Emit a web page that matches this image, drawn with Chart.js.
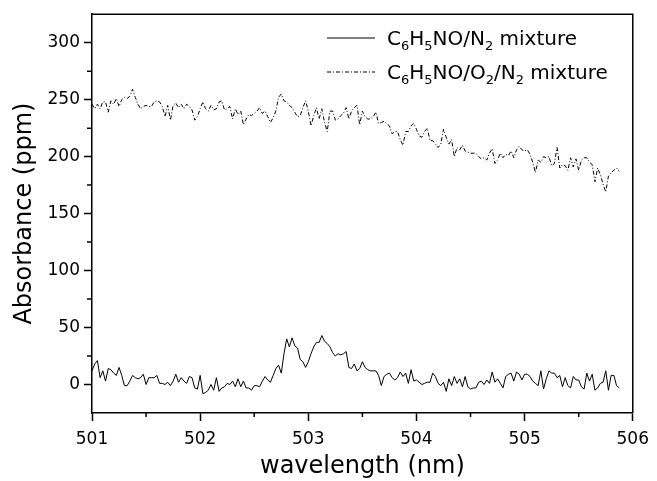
<!DOCTYPE html>
<html lang="en">
<head>
    <meta charset="UTF-8">
    <title>Absorbance spectra</title>
    <script src="https://cdn.jsdelivr.net/npm/chart.js@4.4.1/dist/chart.umd.min.js"></script>
    <style>
        body { margin: 0; background: #fff; }
        canvas { display: block; }
    </style>
</head>
<body>
    <canvas id="spectrum" width="657" height="481"></canvas>

    <script>
        // sampling grid of the spectrometer (nm)
        const WL_START = 501;
        const WL_STEP = 0.025;
        const WL_COUNT = 196;

        // C6H5NO/N2 mixture (ppm)
        const noMixture = [
            12, 18, 21, 6, 12, 3, 14, 13, 10, 8,
            15, 8, -1, -1, 3, 8, 6, 5, 6, 9,
            0, 6, 6, 6, 8, 1, 1, 0, 2, -1,
            3, 9, 2, 6, 3, 1, 7, 6, -3, -4,
            8, -8, -7, -5, 0, -5, 6, -6, -3, -2,
            1, 0, 3, -2, 5, -2, 3, -3, -3, -5,
            -1, -1, -2, 3, 7, 4, 2, 8, 14, 17,
            10, 27, 40, 33, 41, 34, 32, 22, 20, 15,
            20, 27, 33, 37, 37, 43, 38, 36, 33, 28,
            25, 27, 26, 27, 29, 15, 14, 18, 12, 14,
            20, 15, 13, 12, 12, 12, 8, -1, 7, 9,
            10, 6, 4, 6, 11, 7, 10, 1, 13, 3,
            4, 2, 0, 1, 2, 2, 10, 7, 1, -1,
            2, -6, 5, -1, 7, 1, 5, -2, 7, -2,
            -4, -3, -3, 2, 3, 0, 4, 1, 11, 2,
            5, 1, -3, 7, 9, 10, 3, 11, 9, 4,
            9, 9, 7, 3, 1, -1, 12, -4, 5, 12,
            10, 10, 6, 8, -2, 6, -1, -3, 7, 4,
            4, -2, -4, 10, 3, 9, -5, -3, 1, 2,
            12, -5, 8, 8, -1, -3
        ];

        // C6H5NO/O2/N2 mixture (ppm)
        const o2Mixture = [
            246, 242, 246, 242, 248, 248, 239, 249, 246, 251,
            244, 250, 252, 251, 253, 259, 252, 246, 242, 244,
            245, 244, 244, 248, 249, 248, 244, 235, 245, 232,
            245, 247, 243, 246, 242, 246, 244, 241, 232, 235,
            242, 248, 242, 240, 245, 241, 242, 248, 249, 241,
            242, 244, 233, 242, 237, 240, 228, 233, 237, 236,
            238, 240, 243, 238, 240, 235, 230, 234, 240, 252,
            255, 249, 248, 245, 243, 239, 235, 236, 243, 249,
            240, 227, 236, 243, 233, 242, 230, 222, 240, 240,
            232, 233, 236, 238, 243, 233, 240, 243, 245, 228,
            240, 235, 233, 233, 235, 239, 229, 230, 231, 229,
            227, 220, 222, 222, 215, 210, 222, 222, 227, 229,
            224, 218, 217, 222, 225, 214, 214, 211, 208, 211,
            224, 217, 211, 215, 200, 208, 206, 210, 205, 204,
            203, 203, 203, 200, 198, 199, 197, 203, 207, 194,
            197, 203, 199, 202, 201, 205, 199, 206, 209, 206,
            205, 206, 202, 195, 186, 197, 195, 200, 199, 200,
            192, 194, 208, 190, 193, 192, 188, 199, 191, 198,
            188, 197, 199, 199, 195, 193, 178, 190, 184, 176,
            169, 183, 186, 188, 190, 187
        ];

        const xTicks = [501, 502, 503, 504, 505, 506];
        const yTicks = [0, 50, 100, 150, 200, 250, 300];

        // legend text pieces: [text, isSubscript]
        const legendNo = [['C', 0], ['6', 1], ['H', 0], ['5', 1], ['NO/N', 0], ['2', 1], [' mixture', 0]];
        const legendO2 = [['C', 0], ['6', 1], ['H', 0], ['5', 1], ['NO/O', 0], ['2', 1], ['/N', 0], ['2', 1], [' mixture', 0]];

        const FONT = "'DejaVu Sans', sans-serif";
        const DASH = [4, 2, 1, 2];

        const wavelength = [];
        for (let i = 0; i < WL_COUNT; i++) {
            wavelength.push(+(WL_START + i * WL_STEP).toFixed(3));
        }

        // minor ticks, frame and legend
        const extrasPlugin = {
            id: 'extras',
            afterDraw(chart) {
                const ctx = chart.ctx;
                const area = chart.chartArea;
                const xs = chart.scales.x;
                const ys = chart.scales.y;
                ctx.save();
                ctx.strokeStyle = '#000';
                ctx.lineWidth = 1.5;
                ctx.setLineDash([]);
                // top and right sides of the frame
                ctx.beginPath();
                ctx.moveTo(area.left, area.top);
                ctx.lineTo(area.right, area.top);
                ctx.lineTo(area.right, area.bottom);
                ctx.stroke();
                // minor ticks
                ctx.beginPath();
                for (let v = 501.5; v < 506; v += 1) {
                    const px = xs.getPixelForValue(v);
                    ctx.moveTo(px, area.bottom);
                    ctx.lineTo(px, area.bottom + 4);
                }
                for (let v = 25; v < 300; v += 50) {
                    const py = ys.getPixelForValue(v);
                    ctx.moveTo(area.left - 5, py);
                    ctx.lineTo(area.left, py);
                }
                ctx.stroke();

                // legend
                const rows = [
                    { parts: legendNo, dash: [], y: 38 },
                    { parts: legendO2, dash: DASH, y: 72 }
                ];
                rows.forEach(row => {
                    ctx.lineWidth = 1;
                    ctx.setLineDash(row.dash);
                    ctx.beginPath();
                    ctx.moveTo(327, row.y);
                    ctx.lineTo(375, row.y);
                    ctx.stroke();
                    ctx.setLineDash([]);
                    let x = 387;
                    const base = row.y + 7;
                    ctx.fillStyle = '#000';
                    ctx.textBaseline = 'alphabetic';
                    ctx.textAlign = 'left';
                    row.parts.forEach(([txt, sub]) => {
                        ctx.font = (sub ? '13px ' : '20px ') + FONT;
                        ctx.fillText(txt, x, sub ? base + 5 : base);
                        x += ctx.measureText(txt).width;
                    });
                });
                ctx.restore();
            }
        };

        const tickColor = (list) => (c) => list.includes(c.tick.value) ? '#000' : 'rgba(0,0,0,0)';

        new Chart(document.getElementById('spectrum'), {
            type: 'line',
            data: {
                datasets: [
                    {
                        label: 'C6H5NO/N2 mixture',
                        data: wavelength.map((w, i) => ({ x: w, y: noMixture[i] })),
                        borderColor: '#000',
                        borderWidth: 1,
                        pointRadius: 0,
                        tension: 0
                    },
                    {
                        label: 'C6H5NO/O2/N2 mixture',
                        data: wavelength.map((w, i) => ({ x: w, y: o2Mixture[i] })),
                        borderColor: '#000',
                        borderWidth: 1,
                        borderDash: DASH,
                        pointRadius: 0,
                        tension: 0
                    }
                ]
            },
            options: {
                responsive: false,
                animation: false,
                devicePixelRatio: 1,
                layout: { padding: { top: 12, right: 18, left: 0, bottom: 0 } },
                plugins: {
                    legend: { display: false },
                    tooltip: { enabled: false }
                },
                scales: {
                    x: {
                        type: 'linear',
                        min: 501,
                        max: 506,
                        afterFit: s => { s.height = 68; },
                        ticks: {
                            stepSize: 0.5,
                            autoSkip: false,
                            maxRotation: 0,
                            padding: 8,
                            color: '#000',
                            font: { family: FONT, size: 17 },
                            callback: v => xTicks.includes(v) ? String(v) : ''
                        },
                        grid: {
                            drawOnChartArea: false,
                            tickLength: 8,
                            tickWidth: 1.5,
                            color: tickColor(xTicks)
                        },
                        border: { color: '#000', width: 1.5 },
                        title: {
                            display: true,
                            text: 'wavelength (nm)',
                            color: '#000',
                            font: { family: FONT, size: 24 },
                            padding: { top: 0, bottom: 0 }
                        }
                    },
                    y: {
                        min: -25,
                        max: 325,
                        afterFit: s => { s.width = 92; },
                        ticks: {
                            stepSize: 25,
                            autoSkip: false,
                            padding: 4,
                            color: '#000',
                            font: { family: FONT, size: 17 },
                            callback: v => yTicks.includes(v) ? String(v) : ''
                        },
                        grid: {
                            drawOnChartArea: false,
                            tickLength: 8,
                            tickWidth: 1.5,
                            color: tickColor(yTicks)
                        },
                        border: { color: '#000', width: 1.5 },
                        title: {
                            display: true,
                            text: 'Absorbance (ppm)',
                            color: '#000',
                            font: { family: FONT, size: 24 },
                            padding: { top: 10, bottom: 0 }
                        }
                    }
                }
            },
            plugins: [extrasPlugin]
        });
    </script>
</body>
</html>
